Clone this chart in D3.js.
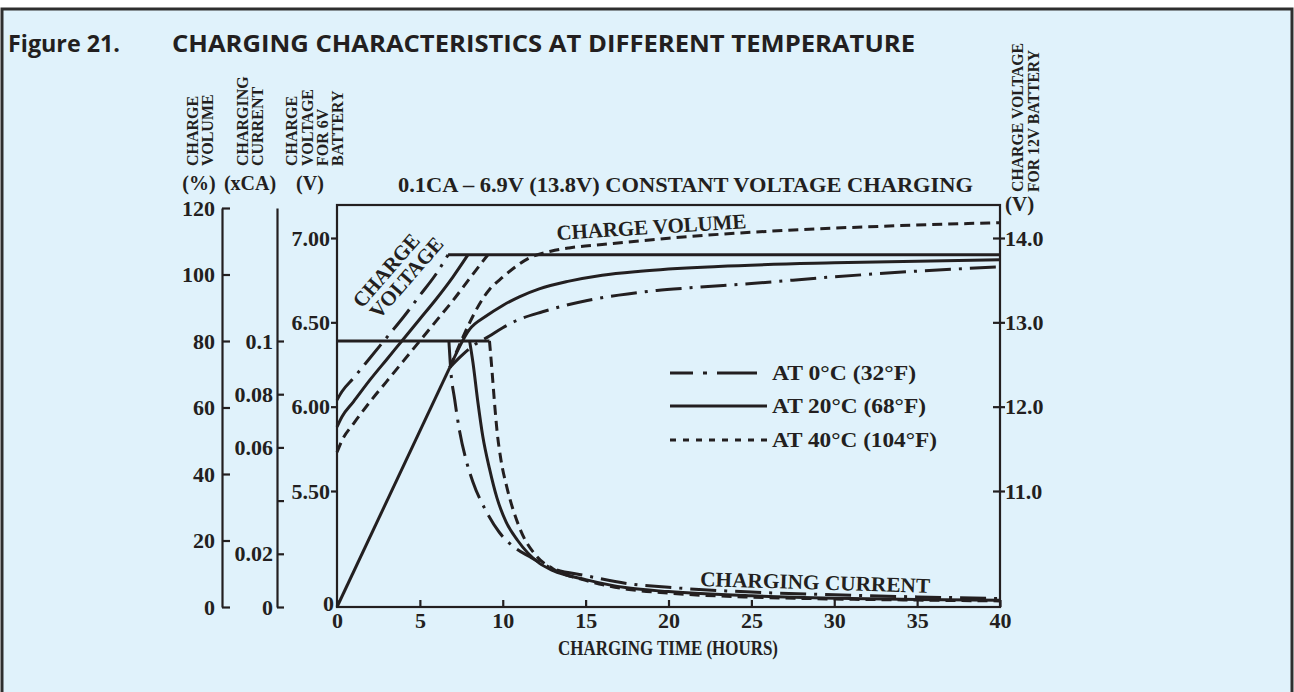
<!DOCTYPE html>
<html><head><meta charset="utf-8">
<script src="https://cdn.jsdelivr.net/npm/d3@7"></script>
<style>
html,body{margin:0;padding:0;background:#fff;}
svg{display:block;}
</style></head><body>
<svg id="chart" width="1294" height="692"></svg>
<script>
// ---------------- DATA ----------------
const hourTicks = [0, 5, 10, 15, 20, 25, 30, 35, 40];
const volumeTicks = [0, 20, 40, 60, 80, 100, 120];
const currentTicks = [0, 0.02, 0.04, 0.06, 0.08, 0.1];
const currentTickLabels = ["0", "0.02", "", "0.06", "0.08", "0.1"];
const volt6Ticks = [5.5, 6.0, 6.5, 7.0];
const volt6TickLabels = ["5.50", "6.00", "6.50", "7.00"];
const volt12Ticks = [11, 12, 13, 14];
const volt12TickLabels = ["11.0", "12.0", "13.0", "14.0"];

const temperatures = ["0", "20", "40"];
const legendLabels = ["AT 0°C (32°F)", "AT 20°C (68°F)", "AT 40°C (104°F)"];

// charge voltage (6V battery) [hours, V] until it reaches the constant voltage
const voltage0C  = [[0,6.04],[0.3,6.09],[1,6.17],[2,6.29],[3,6.41],[4,6.53],[5,6.66],[6,6.79],[6.7,6.9]];
const voltage20C = [[0,5.88],[0.3,5.94],[1,6.03],[2,6.16],[3,6.28],[4,6.40],[5,6.52],[6,6.64],[7,6.77],[7.9,6.9]];
const voltage40C = [[0,5.73],[0.3,5.80],[1,5.90],[2,6.03],[3,6.15],[4,6.27],[5,6.39],[6,6.51],[7,6.63],[8,6.76],[9.1,6.9]];
const constantVoltage = [[6.7,6.9],[40,6.9]];

// charging current (xCA)
const constantCurrent = [[0,0.1],[9.2,0.1]];
const current0C  = [[6.75,0.1],[6.85,0.09],[7.1,0.078],[7.4,0.066],[7.8,0.055],[8.2,0.047],[9,0.036],[9.8,0.028],[10.8,0.022],[11.6,0.019],[13,0.0145],[15,0.0118],[17.5,0.0088],[20,0.0074],[25,0.0056],[30,0.0046],[35,0.0038],[40,0.0032]];
const current20C = [[8.0,0.1],[8.2,0.092],[8.5,0.077],[8.8,0.064],[9.2,0.052],[9.65,0.041],[10.2,0.032],[10.9,0.025],[12.2,0.0165],[13,0.0138],[15,0.0103],[17.5,0.0072],[20,0.0058],[25,0.0042],[30,0.0033],[35,0.0028],[40,0.0025]];
const current40C = [[9.2,0.1],[9.35,0.089],[9.5,0.077],[9.65,0.0665],[9.9,0.055],[10.25,0.045],[11.0,0.030],[12.05,0.019],[13,0.0145],[15,0.0100],[17.5,0.0067],[20,0.0052],[25,0.0037],[30,0.003],[35,0.0026],[40,0.0023]];

// charge volume (%)
const commonVolume = [[0,0],[6.8,72]];
const volume0C  = [[6.8,72],[7.5,75.5],[8.2,78.5],[9.2,81.5],[10,84],[10.9,86.3],[12.4,88.8],[15.1,92.2],[17,93.8],[19.3,95.2],[21.3,96],[25,97.3],[30,99.3],[35,101],[40,102.3]];
const volume20C = [[6.8,72],[8.0,83.5],[9,87.5],[10,90.7],[11,93.3],[12.2,95.7],[14,98],[16,99.8],[18.3,101],[23,102.4],[30,103.5],[40,104.4]];
const volume40C = [[6.8,72],[9.2,95.5],[10,99.2],[10.9,102.8],[11.5,104.7],[12.9,107],[14,108],[16,109],[20,110.9],[24,112.4],[28,113.5],[34,114.7],[40,115.6]];

// ---------------- DRAW ----------------
const W = 1294, H = 692;
const ink = "#231f20";
const serif = "'Liberation Serif','Times New Roman',serif";
const sans = "'Open Sans','Liberation Sans',sans-serif";
const svg = d3.select("#chart");

svg.append("rect").attr("width", W).attr("height", H).attr("fill", "#fff");
svg.append("rect").attr("x", 2).attr("y", 9).attr("width", W - 4).attr("height", H)
  .attr("fill", "#e0f2fb").attr("stroke", "#2e2e2e").attr("stroke-width", 3);

// title
svg.append("text").attr("x", 8).attr("y", 52).attr("font-family", sans).attr("font-weight", 700)
  .attr("font-size", 24).attr("fill", ink).attr("textLength", 112).attr("lengthAdjust", "spacingAndGlyphs")
  .text("Figure 21.");
svg.append("text").attr("x", 172).attr("y", 52).attr("font-family", sans).attr("font-weight", 700)
  .attr("font-size", 24).attr("fill", ink).attr("textLength", 743).attr("lengthAdjust", "spacingAndGlyphs")
  .text("CHARGING CHARACTERISTICS AT DIFFERENT TEMPERATURE");

const plot = {left: 337, right: 1000, top: 205, bottom: 607};
const x = d3.scaleLinear().domain([0, 40]).range([plot.left, plot.right]);
const yVol = d3.scaleLinear().domain([0, 120]).range([607, 208]);
const yCA = d3.scaleLinear().domain([0, 0.15]).range([607, 208]);
const yV6 = d3.scaleLinear().domain([5.5, 7.0]).range([491, 238]);
const yV12 = d3.scaleLinear().domain([11, 14]).range([491, 238]);

function styleAxis(g, fs) {
  g.selectAll("path").attr("stroke", ink).attr("stroke-width", 2.2);
  g.selectAll("line").attr("stroke", ink).attr("stroke-width", 2.2);
  g.selectAll("text").attr("fill", ink).attr("font-family", serif).attr("font-weight", 700).attr("font-size", fs);
}

// plot frame
svg.append("rect").attr("x", plot.left).attr("y", plot.top)
  .attr("width", plot.right - plot.left).attr("height", plot.bottom - plot.top)
  .attr("fill", "none").attr("stroke", ink).attr("stroke-width", 2.2);

// volume axis
const gVol = svg.append("g").attr("transform", "translate(222,0)")
  .call(d3.axisLeft(yVol).tickValues(volumeTicks).tickSizeInner(-8).tickSizeOuter(0).tickPadding(7));
styleAxis(gVol, 22);
// current axis
const gCA = svg.append("g").attr("transform", "translate(277,0)")
  .call(d3.axisLeft(yCA).tickValues(currentTicks).tickFormat((d, i) => currentTickLabels[i])
    .tickSizeInner(-7).tickSizeOuter(0).tickPadding(4));
styleAxis(gCA, 22);
// 6V voltage axis
const gV6 = svg.append("g").attr("transform", `translate(${plot.left},0)`)
  .call(d3.axisLeft(yV6).tickValues(volt6Ticks).tickFormat((d, i) => volt6TickLabels[i])
    .tickSize(6).tickPadding(1));
gV6.select(".domain").remove();
styleAxis(gV6, 22);
// 12V voltage axis
const gV12 = svg.append("g").attr("transform", `translate(${plot.right},0)`)
  .call(d3.axisRight(yV12).tickValues(volt12Ticks).tickFormat((d, i) => volt12TickLabels[i])
    .tickSizeInner(-7).tickSizeOuter(0).tickPadding(5));
gV12.select(".domain").remove();
gV12.selectAll(".tick line").attr("x2", -7).attr("x1", 5);
styleAxis(gV12, 22);
// x axis
const gX = svg.append("g").attr("transform", `translate(0,${plot.bottom})`)
  .call(d3.axisBottom(x).tickValues(hourTicks).tickSizeInner(-7).tickSizeOuter(0).tickPadding(5));
gX.select(".domain").remove();
styleAxis(gX, 22);

// origin "0"
svg.append("text").attr("x", plot.left - 3).attr("y", yCA(0) + 4).attr("text-anchor", "end")
  .attr("font-family", serif).attr("font-weight", 700).attr("font-size", 22).attr("fill", ink).text("0");

// curves
const lineFn = (sy) => d3.line().x(d => x(d[0])).y(d => sy(d[1])).curve(d3.curveMonotoneX);
const dashes = {"0": "26,8,3,8", "20": null, "40": "10,6"};
const series = {
  "0":  {v: voltage0C,  i: current0C,  q: volume0C},
  "20": {v: voltage20C, i: current20C, q: volume20C},
  "40": {v: voltage40C, i: current40C, q: volume40C}
};
const curves = svg.append("g").attr("fill", "none").attr("stroke", ink).attr("stroke-width", 3);
["40", "0", "20"].forEach(t => {
  const s = series[t];
  [[s.v, yV6], [s.i, yCA], [s.q, yVol]].forEach(([data, sy]) => {
    curves.append("path").attr("d", lineFn(sy)(data)).attr("stroke-dasharray", dashes[t]);
  });
});
curves.append("path").attr("d", lineFn(yV6)(constantVoltage));
curves.append("path").attr("d", lineFn(yCA)(constantCurrent));
curves.append("path").attr("d", lineFn(yVol)(commonVolume));

// legend
const legendDash = {"0": "23,10,4,10,40", "20": null, "40": "6,7"};
const legendY = [373, 406, 440];
temperatures.forEach((t, i) => {
  svg.append("line").attr("x1", 670).attr("x2", 767).attr("y1", legendY[i]).attr("y2", legendY[i])
    .attr("stroke", ink).attr("stroke-width", 3).attr("stroke-dasharray", legendDash[t]);
  svg.append("text").attr("x", 772).attr("y", legendY[i] + 7).attr("font-family", serif)
    .attr("font-weight", 700).attr("font-size", 21).attr("fill", ink)
    .attr("textLength", [144, 154, 165][i]).attr("lengthAdjust", "spacingAndGlyphs").text(legendLabels[i]);
});

// texts
function txt(str, xx, yy, opts = {}) {
  const t = svg.append("text").attr("x", xx).attr("y", yy).attr("font-family", serif).attr("font-weight", 700)
    .attr("font-size", opts.size || 21).attr("fill", ink).attr("text-anchor", opts.anchor || "start").text(str);
  if (opts.rotate !== undefined) t.attr("transform", `rotate(${opts.rotate},${xx},${yy})`);
  if (opts.len) t.attr("textLength", opts.len).attr("lengthAdjust", "spacingAndGlyphs");
  return t;
}
txt("(%)", 199, 190, {size: 20, anchor: "middle"});
txt("(xCA)", 250, 190, {size: 20, anchor: "middle"});
txt("(V)", 310, 190, {size: 20, anchor: "middle"});
txt("(V)", 1005, 211);
txt("0.1CA – 6.9V (13.8V) CONSTANT VOLTAGE CHARGING", 398, 192, {size: 21, len: 575});

// rotated axis titles
const rot = [
  ["CHARGE", 198], ["VOLUME", 213],
  ["CHARGING", 248], ["CURRENT", 263],
  ["CHARGE", 297], ["VOLTAGE", 313], ["FOR 6V", 328], ["BATTERY", 343]
];
rot.forEach(([s, bx]) => txt(s, bx, 166, {size: 16, rotate: -90}));
txt("CHARGE VOLTAGE", 1023, 192, {size: 16, rotate: -90, len: 149});
txt("FOR 12V BATTERY", 1039, 192, {size: 16, rotate: -90, len: 142});

// in-plot labels
txt("CHARGE", 362, 309, {size: 21, rotate: -49, len: 90});
txt("VOLTAGE", 379, 320, {size: 21, rotate: -49, len: 100});
txt("CHARGE VOLUME", 557, 240, {size: 21, rotate: -3.6, len: 190});
txt("CHARGING CURRENT", 700, 586, {size: 21, rotate: 1.7, len: 230});
txt("CHARGING TIME (HOURS)", 558, 655, {size: 20, len: 220});
</script>
</body></html>
